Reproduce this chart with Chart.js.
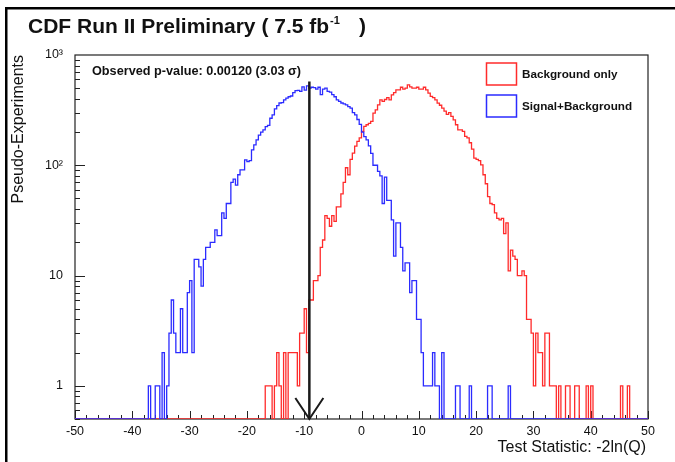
<!DOCTYPE html>
<html>
<head>
<meta charset="utf-8">
<script src="https://cdn.jsdelivr.net/npm/chart.js@4.4.1/dist/chart.umd.min.js"></script>
<style>
  html, body { margin: 0; padding: 0; background: #fff; }
  #wrap { width: 675px; height: 462px; position: relative; }
</style>
</head>
<body>
<div id="wrap"><canvas id="llr"></canvas></div>
<script>
// test statistic -2ln(Q), histogram bins of 0.4 from -50 to 50
const xMin = -50, xMax = 50, binWidth = 0.4;
const yMin = 0.5, yMax = 1000;

// Signal+Background pseudo-experiments, first bin starts at -37.6
const sbStart = -37.6;
const sbCounts = [
  0, 1, 0, 0, 1, 1, 0, 2, 0, 1,
  3, 6, 3, 2, 2, 5, 2, 2, 7, 9,
  2, 14, 14, 12, 8, 14, 18, 18, 20, 20,
  26, 23, 23, 37, 33, 45, 45, 70, 75, 66,
  82, 91, 91, 112, 108, 110, 138, 153, 170, 188,
  200, 209, 224, 230, 267, 286, 324, 347, 367, 370,
  392, 407, 418, 425, 456, 475, 478, 467, 515, 480,
  524, 500, 510, 505, 490, 510, 438, 490, 500, 467,
  460, 438, 418, 392, 380, 367, 360, 353, 340, 330,
  300, 286, 260, 235, 200, 182, 170, 150, 128, 100,
  100, 88, 80, 45, 78, 48, 48, 32, 15, 30,
  30, 18, 11, 13, 13, 7, 9, 9, 4, 4,
  2, 1, 1, 1, 1, 2, 1, 1, 0, 2,
  0, 0, 0, 0, 0, 1, 1, 0, 0, 0,
  0, 1, 0, 0, 0, 0, 0, 0, 0, 1,
  1, 0, 0, 0, 0, 0, 0, 0, 1
];

// Background-only pseudo-experiments, first bin starts at -16.8
const bgStart = -16.8;
const bgCounts = [
  1, 1, 1, 0, 1, 2, 1, 0, 2, 0,
  2, 2, 2, 2, 1, 3, 3, 5, 2, 6,
  6, 9, 9, 10, 18, 21, 35, 33, 28, 35,
  31, 42, 42, 55, 70, 95, 82, 113, 129, 149,
  165, 177, 203, 225, 233, 240, 250, 297, 318, 353,
  392, 380, 395, 410, 392, 435, 455, 483, 483, 510,
  490, 500, 535, 515, 500, 500, 510, 490, 490, 510,
  483, 451, 421, 410, 392, 366, 350, 330, 310, 290,
  300, 278, 258, 233, 209, 209, 203, 183, 177, 160,
  140, 116, 113, 110, 101, 82, 68, 52, 45, 44,
  37, 33, 32, 33, 24, 30, 11, 17, 15, 14,
  10, 10, 11, 10, 4, 4, 3, 1, 3, 2,
  2, 1, 3, 3, 1, 1, 1, 0, 1, 0,
  0, 1, 1, 0, 0, 1, 1, 0, 0, 0,
  1, 0, 1, 0, 0, 0, 0, 0, 0, 0,
  0, 0, 0, 0, 0, 1, 0, 0, 1
];

// observed value of the test statistic, arrow drawn from the top down to the axis
const observedLLR = -9.1;
const arrowTop = 575;

const xTickStep = 10;
const yTickValues = [1, 10, 100, 1000];
const yTickLabels = ['1', '10', '10\u00b2', '10\u00b3'];

const seriesNames = ['Background only', 'Signal+Background'];
const seriesColors = ['#ff2b2b', '#2b2bff'];

const FONT = '"Liberation Sans", Arial, Helvetica, sans-serif';

// left bin edges with the count of each bin; empty bins sit on the axis minimum
function histPoints(start, counts) {
  const nBins = Math.round((xMax - xMin) / binWidth);
  const first = Math.round((start - xMin) / binWidth);
  const pts = [];
  for (let k = 0; k < nBins; k++) {
    const c = counts[k - first] || 0;
    pts.push({ x: xMin + k * binWidth, y: c > 0 ? c : yMin });
  }
  pts.push({ x: xMax, y: pts[pts.length - 1].y });
  return pts;
}

const framePlugin = {
  id: 'framePlugin',
  beforeDatasetsDraw(chart) {
    const { ctx, chartArea: a, scales: { x, y } } = chart;
    ctx.save();
    ctx.strokeStyle = '#222';
    ctx.lineWidth = 1.2;
    ctx.strokeRect(a.left, a.top, a.right - a.left, a.bottom - a.top);

    // tick marks inside the frame
    ctx.lineWidth = 1;
    ctx.beginPath();
    for (let i = 0; i <= (xMax - xMin) / 2; i++) {
      const v = xMin + i * 2;
      const px = Math.round(x.getPixelForValue(v)) + 0.5;
      const len = v % xTickStep === 0 ? 8 : 4;
      ctx.moveTo(px, a.bottom);
      ctx.lineTo(px, a.bottom - len);
    }
    for (const dec of [0.1, 1, 10, 100]) {
      for (let m = 1; m <= 9; m++) {
        const v = m * dec;
        if (v < yMin || v > yMax) continue;
        const py = Math.round(y.getPixelForValue(v)) + 0.5;
        const len = m === 1 ? 10 : 5;
        ctx.moveTo(a.left, py);
        ctx.lineTo(a.left + len, py);
      }
    }
    ctx.stroke();
    ctx.restore();
  },
  afterDatasetsDraw(chart) {
    const { ctx, scales: { x, y } } = chart;
    const px = x.getPixelForValue(observedLLR);
    const top = y.getPixelForValue(arrowTop);
    const bot = y.getPixelForValue(yMin);
    ctx.save();
    ctx.strokeStyle = '#1a1a1a';
    ctx.lineWidth = 2.5;
    ctx.beginPath();
    ctx.moveTo(px, top);
    ctx.lineTo(px, bot);
    ctx.stroke();
    ctx.lineWidth = 2;
    ctx.beginPath();
    ctx.moveTo(px - 14, bot - 21);
    ctx.lineTo(px, bot);
    ctx.lineTo(px + 14, bot - 21);
    ctx.stroke();
    ctx.restore();
  },
  afterDraw(chart) {
    const { ctx } = chart;
    ctx.save();
    // outer pad border (left and top edges are the visible ones)
    ctx.fillStyle = '#000';
    ctx.fillRect(5, 7, 2.5, 455);
    ctx.fillRect(5, 7, 670, 2.5);

    // title with superscript
    ctx.fillStyle = '#111';
    ctx.textBaseline = 'alphabetic';
    ctx.textAlign = 'left';
    ctx.font = 'bold 21px ' + FONT;
    const main = 'CDF Run II Preliminary ( 7.5 fb';
    ctx.fillText(main, 28, 33);
    const w = ctx.measureText(main).width;
    ctx.font = 'bold 11px ' + FONT;
    ctx.fillText('-1', 28 + w + 1, 24);
    ctx.font = 'bold 21px ' + FONT;
    ctx.fillText(')', 359, 33);

    // axis titles
    ctx.font = '16px ' + FONT;
    ctx.textAlign = 'right';
    ctx.fillText('Test Statistic: -2ln(Q)', 646, 452);
    ctx.save();
    ctx.translate(23, 55);
    ctx.rotate(-Math.PI / 2);
    ctx.fillText('Pseudo-Experiments', 0, 0);
    ctx.restore();

    // observed p-value
    ctx.textAlign = 'left';
    ctx.font = 'bold 12.7px ' + FONT;
    ctx.fillText('Observed p-value: 0.00120 (3.03 \u03c3)', 92, 75);

    // legend
    ctx.font = 'bold 11.7px ' + FONT;
    ctx.lineWidth = 1.5;
    const rows = [74, 106];
    seriesNames.forEach((name, i) => {
      ctx.strokeStyle = seriesColors[i];
      ctx.strokeRect(486.5, rows[i] - 11, 30, 22);
      ctx.fillStyle = '#111';
      ctx.textBaseline = 'middle';
      ctx.fillText(name, 522, rows[i] + 1);
    });
    ctx.restore();
  }
};

new Chart(document.getElementById('llr'), {
  type: 'line',
  data: {
    datasets: [
      {
        label: seriesNames[0],
        data: histPoints(bgStart, bgCounts),
        borderColor: seriesColors[0],
        borderWidth: 1.3,
        stepped: true,
        pointRadius: 0,
        fill: false,
        order: 2
      },
      {
        label: seriesNames[1],
        data: histPoints(sbStart, sbCounts),
        borderColor: seriesColors[1],
        borderWidth: 1.3,
        stepped: true,
        pointRadius: 0,
        fill: false,
        order: 1
      }
    ]
  },
  options: {
    responsive: true,
    maintainAspectRatio: false,
    animation: false,
    events: [],
    layout: { padding: { top: 55, right: 27, left: 0, bottom: 0 } },
    plugins: {
      legend: { display: false },
      title: { display: false },
      tooltip: { enabled: false }
    },
    scales: {
      x: {
        type: 'linear',
        min: xMin,
        max: xMax,
        afterFit: s => { s.height = 43; },
        grid: { display: false, drawTicks: false },
        border: { display: false },
        ticks: {
          stepSize: xTickStep,
          autoSkip: false,
          maxRotation: 0,
          padding: 5,
          color: '#111',
          font: { family: FONT, size: 12.5 }
        }
      },
      y: {
        type: 'logarithmic',
        min: yMin,
        max: yMax,
        afterFit: s => { s.width = 75; },
        afterBuildTicks: s => { s.ticks = yTickValues.map(v => ({ value: v })); },
        grid: { display: false, drawTicks: false },
        border: { display: false },
        ticks: {
          padding: 12,
          color: '#111',
          font: { family: FONT, size: 12.5 },
          callback: v => yTickLabels[yTickValues.indexOf(v)]
        }
      }
    }
  },
  plugins: [framePlugin]
});
</script>
</body>
</html>
